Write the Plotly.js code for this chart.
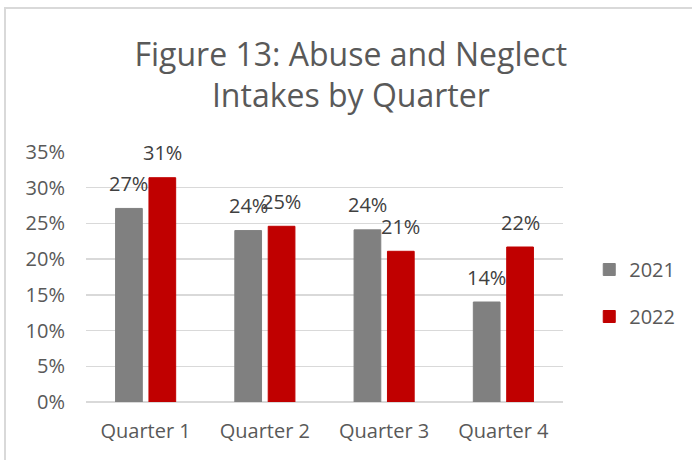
<!DOCTYPE html>
<html>
<head>
<meta charset="utf-8">
<script src="https://cdn.plot.ly/plotly-3.0.1.min.js"></script>
<style>
  html, body { margin: 0; padding: 0; background: #ffffff; }
  #wrap { position: relative; width: 692px; height: 460px; overflow: hidden; }
  #chart { position: absolute; left: 0; top: 0; width: 692px; height: 460px; }
  #frame { position: absolute; left: 4px; top: 7px; width: 720px; height: 480px;
           border-left: 2px solid #d9d9d9; border-top: 2px solid #d9d9d9; pointer-events: none; }
</style>
</head>
<body>
<div id="wrap">
  <div id="chart"></div>
  <div id="frame"></div>
</div>
<script>
const categories = ["Quarter 1", "Quarter 2", "Quarter 3", "Quarter 4"];
const seriesNames = ["2021", "2022"];
const values2021 = [0.271, 0.240, 0.241, 0.140];
const values2022 = [0.314, 0.246, 0.211, 0.217];
const colors = ["#808080", "#C00000"];

const FONT = "Open Sans, Noto Sans, sans-serif";
const bargap = 0.44;
const seriesValues = [values2021, values2022];

const traces = seriesValues.map((vals, i) => ({
  type: "bar",
  name: seriesNames[i],
  x: categories,
  y: vals,
  marker: { color: colors[i], line: { color: colors[i], width: 1 } },
  legendgroup: "g" + i,
  hoverinfo: "x+y+name"
}));

// data labels placed through the category axis scale
const annotations = [];
const slot = (1 - bargap) / 2;
seriesValues.forEach((vals, s) => {
  const off = (s - 0.5) * slot;
  vals.forEach((v, c) => {
    annotations.push({
      x: c + off, y: v, xref: "x", yref: "y",
      text: Math.round(v * 100) + "%",
      showarrow: false, xanchor: "center", yanchor: "middle",
      yshift: 25,
      font: { family: FONT, size: 20, color: "#404040" }
    });
  });
});

const layout = {
  width: 692, height: 460,
  paper_bgcolor: "#ffffff", plot_bgcolor: "#ffffff",
  margin: { l: 86, r: 129, t: 152, b: 58, autoexpand: false },
  title: {
    text: "Figure 13: Abuse and Neglect<br>Intakes by Quarter",
    font: { family: FONT, size: 32, color: "#595959" },
    x: 0.507, xref: "container", xanchor: "center",
    y: 0.857, yref: "container", yanchor: "middle"
  },
  barmode: "group",
  bargap: bargap,
  bargroupgap: 0.2,
  xaxis: {
    type: "category",
    tickfont: { family: FONT, size: 20, color: "#595959" },
    ticks: "", showline: false, showgrid: false,
    ticklabelstandoff: 15
  },
  yaxis: {
    range: [0, 0.35], dtick: 0.05, tick0: 0,
    tickformat: ".0%",
    tickfont: { family: FONT, size: 20, color: "#595959" },
    showgrid: true, gridcolor: "#d9d9d9", gridwidth: 1.5,
    zeroline: true, zerolinecolor: "#d9d9d9", zerolinewidth: 1.5,
    showline: false, ticks: "",
    ticklabelstandoff: 20
  },
  legend: {
    x: 1.055, xanchor: "left", y: 0.436, yanchor: "middle",
    font: { family: FONT, size: 20, color: "#595959" },
    traceorder: "grouped", tracegroupgap: 18,
    bgcolor: "rgba(0,0,0,0)"
  },
  annotations: annotations,
  showlegend: true
};

Plotly.newPlot("chart", traces, layout, { displayModeBar: false, staticPlot: true });
</script>
</body>
</html>
